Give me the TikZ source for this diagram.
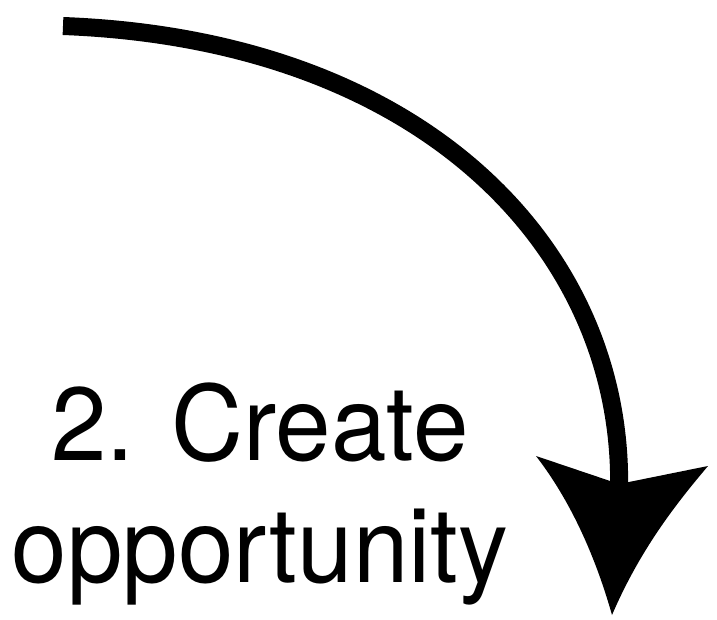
\documentclass[tikz,border=0pt]{standalone}
\usepackage{fontspec}
\setmainfont{TeX Gyre Heros}
\tikzset{
  shaft/.style={line width=18pt, line cap=butt, black},
  headfill/.style={fill=black, draw=none},
  bigtext/.style={font=\fontsize{104}{120}\selectfont, inner sep=0pt, anchor=base, xscale=0.96, transform shape}
}
\begin{document}
\begin{tikzpicture}[x=1pt,y=-1pt]
\useasboundingbox (0,0) rectangle (717,620);
\coordinate (start) at (63,26);
\coordinate (end) at (619,492);
\draw[shaft] (start) .. controls (430,40) and (625,255) .. (end);
\coordinate (lb) at (536,456);
\coordinate (notch) at (619,484);
\coordinate (rb) at (708,466);
\coordinate (tip) at (612,615);
\fill[headfill] (lb) -- (notch) -- (rb) .. controls (675,505) and (640,550) .. (tip)
  .. controls (595,555) and (570,500) .. (lb) -- cycle;
\node[bigtext] (l1) at (260,460) {2. Create};
\node[bigtext] (l2) at (260,582) {opportunity};
\end{tikzpicture}
\end{document}
